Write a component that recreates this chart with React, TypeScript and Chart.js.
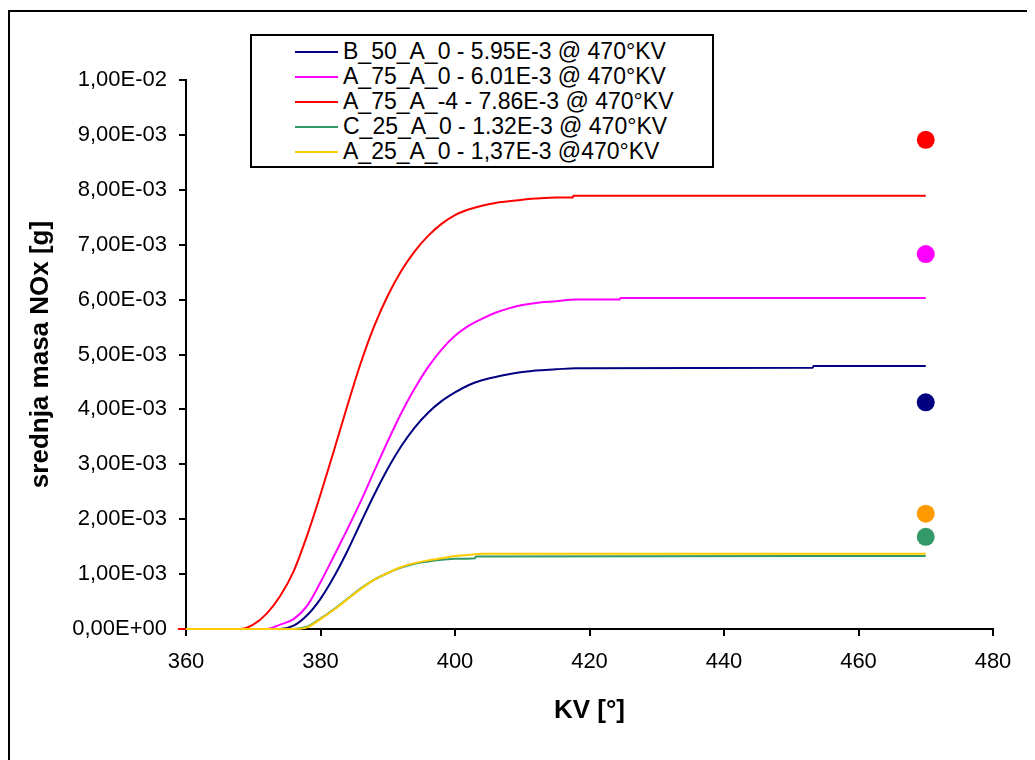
import React, { useEffect, useRef } from "react";
import { Chart, registerables } from "chart.js";

Chart.register(...registerables);

const FONT = "'Liberation Sans', Arial, sans-serif";

// Axis ranges
const kvMin = 360;
const kvMax = 480;
const kvStep = 20;
const noxMin = 0;
const noxMax = 0.01;
const noxStep = 0.001;

// Series labels and colours
const seriesLabels = [
  "B_50_A_0 - 5.95E-3 @ 470°KV",
  "A_75_A_0 - 6.01E-3 @ 470°KV",
  "A_75_A_-4 - 7.86E-3 @ 470°KV",
  "C_25_A_0 - 1.32E-3 @ 470°KV",
  "A_25_A_0 - 1,37E-3 @470°KV",
];
const seriesColors = ["#000080", "#FF00FF", "#FF0000", "#339966", "#FFCC00"];

// B_50_A_0 (navy)
const b50KV = [360, 374, 376, 378, 380, 382, 384, 386, 388, 390, 392, 394, 396, 398, 400, 402, 404, 406, 408, 410, 412, 415, 418, 453.2, 453.3, 470];
const b50NOx = [0, 0, 0.06e-3, 0.25e-3, 0.55e-3, 0.95e-3, 1.42e-3, 1.94e-3, 2.45e-3, 2.92e-3, 3.33e-3, 3.67e-3, 3.94e-3, 4.15e-3, 4.31e-3, 4.44e-3, 4.53e-3, 4.59e-3, 4.64e-3, 4.68e-3, 4.71e-3, 4.73e-3, 4.75e-3, 4.76e-3, 4.79e-3, 4.79e-3];

// A_75_A_0 (magenta)
const a75KV = [360, 372, 374, 376, 378, 380, 382, 384, 386, 388, 390, 392, 394, 396, 398, 400, 402, 404, 406, 408, 410, 412, 415, 418, 424.5, 424.6, 470];
const a75NOx = [0, 0, 0.08e-3, 0.18e-3, 0.42e-3, 0.85e-3, 1.33e-3, 1.82e-3, 2.33e-3, 2.88e-3, 3.42e-3, 3.93e-3, 4.38e-3, 4.77e-3, 5.09e-3, 5.34e-3, 5.52e-3, 5.65e-3, 5.76e-3, 5.84e-3, 5.9e-3, 5.94e-3, 5.97e-3, 6.0e-3, 6.0e-3, 6.03e-3, 6.03e-3];

// A_75_A_-4 (red)
const a75m4KV = [358.8, 368, 370, 372, 374, 376, 378, 380, 382, 384, 386, 388, 390, 392, 394, 396, 398, 400, 402, 404, 406, 408, 410, 412, 415, 417.5, 417.6, 470];
const a75m4NOx = [0, 0, 0.08e-3, 0.28e-3, 0.6e-3, 1.05e-3, 1.7e-3, 2.45e-3, 3.25e-3, 4.07e-3, 4.85e-3, 5.52e-3, 6.07e-3, 6.52e-3, 6.88e-3, 7.16e-3, 7.38e-3, 7.54e-3, 7.64e-3, 7.71e-3, 7.76e-3, 7.79e-3, 7.82e-3, 7.84e-3, 7.86e-3, 7.86e-3, 7.89e-3, 7.89e-3];

// C_25_A_0 (green)
const c25KV = [360, 376, 378, 380, 382, 384, 386, 388, 390, 392, 394, 396, 398, 400, 403, 403.1, 470];
const c25NOx = [0, 0, 0.04e-3, 0.19e-3, 0.36e-3, 0.55e-3, 0.74e-3, 0.9e-3, 1.02e-3, 1.12e-3, 1.19e-3, 1.23e-3, 1.26e-3, 1.28e-3, 1.29e-3, 1.32e-3, 1.33e-3];

// A_25_A_0 (yellow)
const a25KV = [360, 376, 378, 380, 382, 384, 386, 388, 390, 392, 394, 396, 398, 400, 402, 404, 470];
const a25NOx = [0, 0, 0.03e-3, 0.18e-3, 0.35e-3, 0.54e-3, 0.73e-3, 0.9e-3, 1.02e-3, 1.13e-3, 1.2e-3, 1.25e-3, 1.29e-3, 1.33e-3, 1.35e-3, 1.37e-3, 1.37e-3];

// Single reference points at 470°KV
const markerKV = 470;
const markerValues = [8.91e-3, 6.83e-3, 4.13e-3, 2.1e-3, 1.68e-3];
const markerColors = ["#FF0000", "#FF00FF", "#000080", "#FF9900", "#339966"];

const seriesKV = [b50KV, a75KV, a75m4KV, c25KV, a25KV];
const seriesNOx = [b50NOx, a75NOx, a75m4NOx, c25NOx, a25NOx];
const seriesOrder = [3, 4, 2, 5, 1];

function sci(v: number): string {
  if (Math.abs(v) < 1e-12) return "0,00E+00";
  let e = Math.floor(Math.log10(Math.abs(v)) + 1e-9);
  let m = v / Math.pow(10, e);
  if (m >= 9.995) {
    m /= 10;
    e += 1;
  }
  const sign = e < 0 ? "-" : "+";
  return m.toFixed(2).replace(".", ",") + "E" + sign + String(Math.abs(e)).padStart(2, "0");
}

export default function App() {
  const canvasRef = useRef<HTMLCanvasElement | null>(null);

  useEffect(() => {
    document.documentElement.style.overflow = "hidden";
    document.body.style.overflow = "hidden";
    const canvas = canvasRef.current;
    if (!canvas) return;

    const lineSets = seriesLabels.map((label, i) => ({
      label,
      data: seriesKV[i].map((x, j) => ({ x, y: seriesNOx[i][j] })),
      borderColor: seriesColors[i],
      backgroundColor: seriesColors[i],
      borderWidth: 2,
      pointRadius: 0,
      cubicInterpolationMode: "monotone",
      fill: false,
      order: seriesOrder[i],
      clip: { left: 10, right: 0, top: 0, bottom: 3 },
    }));

    const markerSets = markerValues.map((v, i) => ({
      label: "marker" + i,
      data: [{ x: markerKV, y: v }],
      showLine: false,
      pointRadius: 9,
      pointHoverRadius: 9,
      pointBorderWidth: 0,
      pointBackgroundColor: markerColors[i],
      pointBorderColor: markerColors[i],
      borderColor: markerColors[i],
      backgroundColor: markerColors[i],
      order: 0,
    }));

    const chart = new Chart(canvas, {
      type: "line",
      data: { datasets: [...lineSets, ...markerSets] as any },
      options: {
        animation: false,
        responsive: false,
        maintainAspectRatio: false,
        layout: { padding: { top: 72, right: 42, left: 0, bottom: 0 } },
        plugins: {
          legend: { display: false },
          tooltip: { enabled: false },
        },
        scales: {
          x: {
            type: "linear",
            min: kvMin,
            max: kvMax,
            ticks: {
              stepSize: kvStep,
              color: "#000",
              font: { family: FONT, size: 22 },
              padding: 13,
              maxRotation: 0,
            },
            grid: {
              drawOnChartArea: false,
              drawTicks: true,
              tickLength: 7,
              color: "#000",
              lineWidth: 2,
            },
            border: { color: "#000", width: 2 },
            title: {
              display: true,
              text: "KV [°]",
              color: "#000",
              font: { family: FONT, size: 26, weight: "bold" },
              padding: { top: 0, bottom: 34 },
            },
            afterFit: (s: any) => {
              s.height = 131;
            },
          },
          y: {
            type: "linear",
            min: noxMin,
            max: noxMax,
            ticks: {
              stepSize: noxStep,
              color: "#000",
              font: { family: FONT, size: 22 },
              padding: 12,
              callback: (v: any) => sci(Number(v)),
            },
            grid: {
              drawOnChartArea: false,
              drawTicks: true,
              tickLength: 7,
              color: "#000",
              lineWidth: 2,
            },
            border: { color: "#000", width: 2 },
            title: {
              display: true,
              text: "srednja masa NOx [g]",
              color: "#000",
              font: { family: FONT, size: 26, weight: "bold" },
              padding: { top: 17, bottom: 0 },
            },
            afterFit: (s: any) => {
              s.width = 178;
            },
          },
        },
      },
    });
    return () => chart.destroy();
  }, []);

  return (
    <div style={{ position: "relative", width: 1027, height: 752, overflow: "hidden", background: "#fff" }}>
      <div
        style={{
          position: "absolute",
          left: 0,
          top: 2,
          width: 1100,
          height: 800,
          borderLeft: "2px solid #000",
          borderTop: "2px solid #000",
          boxSizing: "border-box",
        }}
      />
      <canvas
        ref={canvasRef}
        width={1027}
        height={752}
        style={{ position: "absolute", left: 0, top: 0, width: 1027, height: 752 }}
      />
      <div
        style={{
          position: "absolute",
          left: 242,
          top: 26,
          width: 464,
          height: 134,
          boxSizing: "border-box",
          border: "2px solid #000",
          background: "#fff",
          paddingTop: 3,
          fontFamily: FONT,
          fontSize: 23,
          color: "#000",
        }}
      >
        {seriesLabels.map((label, i) => (
          <div key={label} style={{ display: "flex", alignItems: "center", height: 25, lineHeight: "25px" }}>
            <div style={{ marginLeft: 43, width: 43, height: 2, background: seriesColors[i], marginRight: 5, flex: "none" }} />
            <span style={{ whiteSpace: "nowrap" }}>{label}</span>
          </div>
        ))}
      </div>
    </div>
  );
}
